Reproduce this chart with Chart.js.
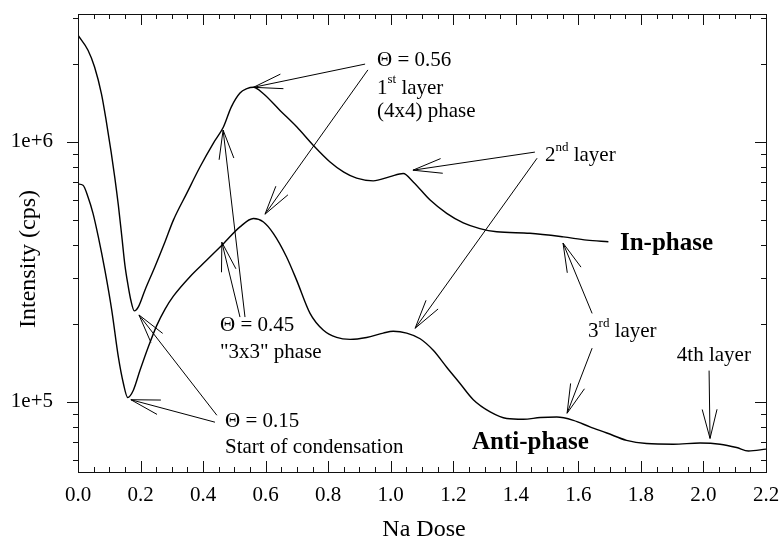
<!DOCTYPE html>
<html>
<head>
<meta charset="utf-8">
<script src="https://cdn.jsdelivr.net/npm/chart.js@4.4.0/dist/chart.umd.min.js"></script>
<style>
html, body { margin: 0; padding: 0; background: #fff; }
#holder { width: 784px; height: 542px; }
</style>
</head>
<body>
<div id="holder"><canvas id="chart-area" width="784" height="542"></canvas></div>
<script>
// in-phase scan: Na dose vs intensity (cps)
var inDose = [0.000, 0.032, 0.053, 0.075, 0.090, 0.106, 0.118, 0.129, 0.140, 0.150,
    0.160, 0.169, 0.180, 0.193, 0.214, 0.246, 0.278, 0.305, 0.348, 0.390,
    0.433, 0.465, 0.490, 0.518, 0.540, 0.561, 0.593, 0.646, 0.700, 0.752,
    0.806, 0.850, 0.891, 0.944, 0.998, 1.040, 1.072, 1.126, 1.179, 1.232,
    1.285, 1.339, 1.445, 1.552, 1.627, 1.696];
var inCps = [2.57e6, 2.25e6, 1.94e6, 1.53e6, 1.21e6, 9.12e5, 7.24e5, 5.71e5, 4.34e5, 3.36e5,
    2.81e5, 2.46e5, 2.24e5, 2.32e5, 2.69e5, 3.31e5, 4.12e5, 5.00e5, 6.35e5, 8.00e5,
    9.89e5, 1.14e6, 1.36e6, 1.54e6, 1.60e6, 1.62e6, 1.53e6, 1.32e6, 1.14e6, 9.71e5,
    8.37e5, 7.65e5, 7.25e5, 7.08e5, 7.35e5, 7.55e5, 7.01e5, 5.97e5, 5.31e5, 4.88e5,
    4.64e5, 4.51e5, 4.45e5, 4.31e5, 4.19e5, 4.13e5];

// anti-phase scan
var antiDose = [0.000, 0.016, 0.032, 0.048, 0.065, 0.086, 0.108, 0.129, 0.145, 0.159,
    0.177, 0.198, 0.225, 0.252, 0.278, 0.305, 0.358, 0.412, 0.465, 0.518,
    0.561, 0.593, 0.625, 0.667, 0.699, 0.742, 0.784, 0.827, 0.870, 0.923,
    0.976, 1.008, 1.051, 1.094, 1.136, 1.179, 1.221, 1.264, 1.318, 1.371,
    1.424, 1.478, 1.531, 1.584, 1.637, 1.691, 1.754, 1.818, 1.904, 1.989,
    2.053, 2.106, 2.144, 2.200];
var antiCps = [6.88e5, 6.81e5, 6.14e5, 5.31e5, 4.31e5, 3.21e5, 2.25e5, 1.49e5, 1.18e5, 1.04e5,
    1.11e5, 1.32e5, 1.63e5, 1.97e5, 2.27e5, 2.55e5, 3.03e5, 3.51e5, 4.06e5, 4.71e5,
    5.07e5, 4.92e5, 4.44e5, 3.61e5, 2.94e5, 2.19e5, 1.89e5, 1.77e5, 1.74e5, 1.77e5,
    1.84e5, 1.87e5, 1.84e5, 1.75e5, 1.58e5, 1.36e5, 1.18e5, 1.02e5, 9.16e4, 8.64e4,
    8.58e4, 8.71e4, 8.75e4, 8.50e4, 8.02e4, 7.60e4, 7.12e4, 6.92e4, 6.88e4, 6.95e4,
    6.88e4, 6.68e4, 6.48e4, 6.59e4];

// axis ticks
var doseTicks = [0, 0.2, 0.4, 0.6, 0.8, 1.0, 1.2, 1.4, 1.6, 1.8, 2.0, 2.2];
var doseLabels = ['0.0', '0.2', '0.4', '0.6', '0.8', '1.0', '1.2', '1.4', '1.6', '1.8', '2.0', '2.2'];
var cpsTicks = [1e5, 1e6];
var cpsLabels = ['1e+5', '1e+6'];
var cpsMinor = [6e4, 7e4, 8e4, 9e4, 2e5, 3e5, 4e5, 5e5, 6e5, 7e5, 8e5, 9e5, 2e6, 3e6];

// arrows: [from dose, from cps, to dose, to cps]
var arrows = [
    [0.918, 1.99e6, 0.561, 1.62e6],
    [0.927, 1.89e6, 0.598, 5.27e5],
    [1.461, 9.13e5, 1.071, 7.78e5],
    [1.468, 8.65e5, 1.078, 1.92e5],
    [1.644, 2.19e5, 1.551, 4.08e5],
    [1.644, 1.61e5, 1.564, 9.05e4],
    [2.018, 1.32e5, 2.021, 7.24e4],
    [0.534, 2.12e5, 0.464, 1.11e6],
    [0.518, 2.12e5, 0.460, 4.11e5],
    [0.438, 8.36e4, 0.169, 1.02e5],
    [0.444, 8.89e4, 0.195, 2.16e5]
];

// text notes: dose, cps, pieces of text (second piece is a superscript)
var notes = [
    [0.956, 2.06e6, ['\u0398 = 0.56']],
    [0.956, 1.61e6, ['1', 'st', ' layer']],
    [0.956, 1.31e6, ['(4x4) phase']],
    [1.493, 8.89e5, ['2', 'nd', ' layer']],
    [1.631, 1.87e5, ['3', 'rd', ' layer']],
    [1.915, 1.51e5, ['4th layer']],
    [0.454, 1.96e5, ['\u0398 = 0.45']],
    [0.454, 1.55e5, ['"3x3" phase']],
    [0.470, 8.43e4, ['\u0398 = 0.15']],
    [0.470, 6.70e4, ['Start of condensation']]
];
var boldNotes = [
    [1.733, 4.07e5, 'In-phase'],
    [1.260, 7.00e4, 'Anti-phase']
];

var serif = "'Liberation Serif', 'Times New Roman', serif";

function toPoints(xs, ys) {
    var pts = [];
    for (var i = 0; i < xs.length; i++) {
        pts.push({x: xs[i], y: ys[i]});
    }
    return pts;
}

function drawArrow(ctx, x1, y1, x2, y2) {
    var ang = Math.atan2(y1 - y2, x1 - x2);
    var len = 30, spread = 0.25;
    ctx.beginPath();
    ctx.moveTo(x1, y1);
    ctx.lineTo(x2, y2);
    ctx.moveTo(x2 + len * Math.cos(ang - spread), y2 + len * Math.sin(ang - spread));
    ctx.lineTo(x2, y2);
    ctx.lineTo(x2 + len * Math.cos(ang + spread), y2 + len * Math.sin(ang + spread));
    ctx.stroke();
}

// frame, minor ticks, axis titles and notes
var decorations = {
    id: 'decorations',
    afterDraw: function(chart) {
        var ctx = chart.ctx;
        var xs = chart.scales.x, ys = chart.scales.y;
        var a = chart.chartArea;
        ctx.save();
        ctx.strokeStyle = '#111';
        ctx.lineWidth = 1;
        ctx.strokeRect(Math.round(a.left) + 0.5, Math.round(a.top) + 0.5,
            Math.round(a.right - a.left), Math.round(a.bottom - a.top));

        ctx.beginPath();
        for (var i = 0; i <= 44; i++) {
            var px = Math.round(xs.getPixelForValue(i * 0.05)) + 0.5;
            var l = (i % 4 == 0) ? 11 : 5;
            ctx.moveTo(px, a.bottom);
            ctx.lineTo(px, a.bottom - l);
            ctx.moveTo(px, a.top);
            ctx.lineTo(px, a.top + l);
        }
        var all = cpsTicks.concat(cpsMinor);
        for (var j = 0; j < all.length; j++) {
            var py = Math.round(ys.getPixelForValue(all[j])) + 0.5;
            var ll = cpsTicks.indexOf(all[j]) >= 0 ? 11 : 5;
            ctx.moveTo(a.left, py);
            ctx.lineTo(a.left - ll, py);
            ctx.moveTo(a.right, py);
            ctx.lineTo(a.right - ll, py);
        }
        ctx.stroke();

        // axis titles
        ctx.fillStyle = '#000';
        ctx.font = '24px ' + serif;
        ctx.textAlign = 'center';
        ctx.textBaseline = 'middle';
        ctx.fillText('Na Dose', (a.left + a.right) / 2 + 2, a.bottom + 58);
        ctx.save();
        ctx.translate(29, a.top + 245);
        ctx.rotate(-Math.PI / 2);
        ctx.fillText('Intensity (cps)', 0, 0);
        ctx.restore();

        // arrows
        ctx.strokeStyle = '#000';
        for (var k = 0; k < arrows.length; k++) {
            var r = arrows[k];
            drawArrow(ctx, xs.getPixelForValue(r[0]), ys.getPixelForValue(r[1]),
                xs.getPixelForValue(r[2]), ys.getPixelForValue(r[3]));
        }

        // notes
        ctx.textAlign = 'left';
        for (var n = 0; n < notes.length; n++) {
            var tx = xs.getPixelForValue(notes[n][0]);
            var ty = ys.getPixelForValue(notes[n][1]);
            var parts = notes[n][2];
            for (var p = 0; p < parts.length; p++) {
                if (p == 1) {
                    ctx.font = '13px ' + serif;
                    ctx.fillText(parts[p], tx, ty - 8);
                } else {
                    ctx.font = '21px ' + serif;
                    ctx.fillText(parts[p], tx, ty);
                }
                tx += ctx.measureText(parts[p]).width;
            }
        }
        ctx.font = 'bold 25px ' + serif;
        for (var b = 0; b < boldNotes.length; b++) {
            ctx.fillText(boldNotes[b][2], xs.getPixelForValue(boldNotes[b][0]),
                ys.getPixelForValue(boldNotes[b][1]));
        }
        ctx.restore();
    }
};

var config = {
    type: 'scatter',
    data: {
        datasets: [{
            label: 'In-phase',
            data: toPoints(inDose, inCps),
            showLine: true,
            borderColor: '#000',
            borderWidth: 1.4,
            pointRadius: 0,
            cubicInterpolationMode: 'monotone'
        }, {
            label: 'Anti-phase',
            data: toPoints(antiDose, antiCps),
            showLine: true,
            borderColor: '#000',
            borderWidth: 1.4,
            pointRadius: 0,
            cubicInterpolationMode: 'monotone'
        }]
    },
    options: {
        responsive: false,
        animation: false,
        layout: { padding: { left: 0, right: 18, top: 14, bottom: 0 } },
        plugins: {
            legend: { display: false },
            tooltip: { enabled: false }
        },
        scales: {
            x: {
                type: 'linear',
                min: 0,
                max: 2.2,
                grid: { display: false, drawTicks: false },
                border: { display: false },
                afterBuildTicks: function(scale) {
                    scale.ticks = doseTicks.map(function(v) { return {value: v}; });
                },
                afterFit: function(scale) {
                    scale.height = 70;
                    scale.paddingLeft = 0;
                    scale.paddingRight = 0;
                },
                ticks: {
                    padding: 11,
                    color: '#000',
                    font: { family: serif, size: 21 },
                    maxRotation: 0,
                    autoSkip: false,
                    callback: function(v, i) { return doseLabels[i]; }
                }
            },
            y: {
                type: 'logarithmic',
                min: 5.38e4,
                max: 3.1e6,
                grid: { display: false, drawTicks: false },
                border: { display: false },
                afterBuildTicks: function(scale) {
                    scale.ticks = cpsTicks.map(function(v) { return {value: v}; });
                },
                afterFit: function(scale) {
                    scale.width = 78;
                    scale.paddingTop = 0;
                    scale.paddingBottom = 0;
                },
                ticks: {
                    padding: 25,
                    color: '#000',
                    font: { family: serif, size: 21 },
                    autoSkip: false,
                    callback: function(v, i) { return cpsLabels[i]; }
                }
            }
        }
    },
    plugins: [decorations]
};

var ctx = document.getElementById('chart-area').getContext('2d');
var myChart = new Chart(ctx, config);
</script>
</body>
</html>
